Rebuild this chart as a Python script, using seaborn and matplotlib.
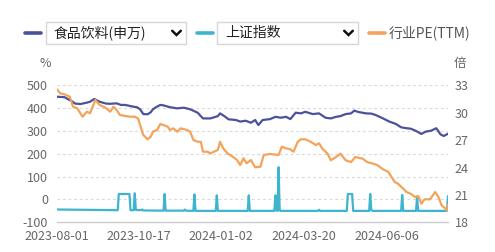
import numpy as np
import pandas as pd
import matplotlib
matplotlib.use("Agg")
import matplotlib.pyplot as plt
import matplotlib.dates as mdates
from matplotlib.patches import Rectangle
from matplotlib.lines import Line2D
import seaborn as sns

# ---------------- data (day offsets from 2023-08-01) ----------------
start_date = "2023-08-01"

navy_day = [0, 7, 14, 17, 22, 28, 31, 35, 40, 46, 50, 56, 60, 64, 68, 72, 75, 78, 81, 85,
            88, 90, 94, 97, 100, 106, 113, 119, 125, 132, 137, 144, 151, 153, 158, 161, 168,
            172, 177, 182, 186, 189, 193, 200, 205, 210, 215, 219, 224, 229, 233, 240, 246,
            252, 257, 262, 266, 271, 276, 279, 283, 290, 295, 299, 306, 312, 318, 323, 328,
            332, 337, 342, 346, 351, 356, 360, 363, 367]
navy_val = [450, 448, 430, 420, 418, 424, 428, 440, 428, 420, 419, 421, 414, 414, 410, 406, 404, 395, 374, 373,
            382, 395, 407, 414, 412, 404, 399, 402, 395, 380, 355, 355, 365, 377, 362, 351, 348,
            341, 345, 336, 348, 326, 348, 352, 362, 358, 362, 352, 380, 377, 384, 374, 377,
            358, 355, 362, 365, 374, 377, 389, 383, 377, 376, 370, 355, 341, 331, 316, 312,
            310, 300, 287, 297, 301, 312, 285, 278, 288]

pe_day = [0, 3, 7, 12, 15, 19, 24, 28, 31, 36, 40, 45, 50, 53, 56, 59, 64, 69, 73, 76, 78, 81, 85,
          88, 90, 94, 97, 100, 104, 106, 109, 113, 116, 122, 125, 128, 132, 135, 137, 141, 144,
          151, 153, 156, 160, 165, 169, 172, 175, 178, 182, 186, 191, 194, 200, 208, 211, 215,
          219, 222, 226, 229, 233, 238, 243, 246, 249, 254, 257, 262, 266, 271, 276, 280, 287,
          291, 297, 301, 306, 311, 314, 317, 320, 325, 328, 332, 336, 339, 342, 345, 350, 355,
          358, 361, 364, 366, 367]
pe_val = [32.56, 32.12, 32.01, 31.75, 30.66, 30.48, 29.56, 30.11, 29.93, 31.39, 30.84, 30.59, 30.11,
          30.66, 30.30, 29.75, 29.64, 29.56, 29.56, 29.39, 28.65, 27.56, 27.09, 27.37, 27.92, 28.11,
          28.76, 28.65, 28.47, 28.11, 28.29, 27.92, 28.29, 28.11, 27.92, 27.01, 26.82, 26.82, 25.73,
          25.73, 25.55, 25.92, 26.82, 26.10, 25.55, 25.18, 24.82, 24.27, 25.01, 24.46, 24.82, 24.02,
          24.09, 25.37, 25.48, 25.37, 26.28, 26.10, 25.99, 25.73, 26.82, 27.09, 27.09, 26.82, 26.46,
          26.65, 26.06, 25.51, 24.79, 25.15, 25.51, 24.79, 24.60, 25.15, 24.96, 24.60, 24.41, 24.24,
          23.80, 23.51, 22.96, 22.41, 22.23, 21.68, 21.32, 21.13, 20.77, 20.88, 20.03, 20.52, 20.52,
          21.32, 20.77, 19.86, 19.56, 19.31, 19.93]

sh_day = [0, 20, 40, 57, 58, 68, 69, 72, 73, 74, 79, 80, 81, 100, 101, 102, 119, 120, 121, 128,
          129, 130, 149, 150, 151, 179, 180, 181, 204, 205, 206, 207, 208, 209, 210, 245, 246,
          247, 272, 273, 277, 278, 293, 294, 295, 296, 323, 324, 325, 337, 338, 339, 366, 367]
sh_val = [-44, -45, -46, -47, 24, 24, -47, -47, 27, -46, -47, -44, -48, -49, 24, -49, -49, -44, -49, -50,
          22, -50, -50, 18, -50, -50, 18, -50, -50, 18, -48, -50, 141, -48, -50, -50, -45,
          -50, -50, 24, 24, -50, -50, 24, -46, -50, -50, 20, -50, -50, 12, -50, -50, 15]

left_ticks = [-100, 0, 100, 200, 300, 400, 500]
right_ticks = [18, 21, 24, 27, 30, 33]
x_tick_labels = ["2023-08-01", "2023-10-17", "2024-01-02", "2024-03-20", "2024-06-06"]
legend_labels = ["食品饮料(申万)", "上证指数", "行业PE(TTM)"]

NAVY = "#4a5299"
CYAN = "#3db5cf"
ORANGE = "#f4a35a"
GRAY = "#666666"

# ---------------- build frames ----------------
t0 = pd.Timestamp(start_date)
navy_df = pd.DataFrame({"date": t0 + pd.to_timedelta(navy_day, unit="D"), "v": navy_val})
pe_df = pd.DataFrame({"date": t0 + pd.to_timedelta(pe_day, unit="D"), "v": pe_val})
sh_df = pd.DataFrame({"date": t0 + pd.to_timedelta(sh_day, unit="D"), "v": sh_val})

sns.set_theme(style="white")
plt.rcParams["font.family"] = ["Noto Sans CJK SC", "DejaVu Sans"]
plt.rcParams["axes.unicode_minus"] = False

W, H = 495, 252
fig = plt.figure(figsize=(W / 100, H / 100), dpi=100)
fig.patch.set_facecolor("white")

L, R, T, B = 57, 448, 85.3, 222.3
ax = fig.add_axes([L / W, 1 - B / H, (R - L) / W, (B - T) / H])
ax2 = ax.twinx()

sns.lineplot(data=sh_df, x="date", y="v", ax=ax, color=CYAN, lw=1.6, estimator=None)
sns.lineplot(data=navy_df, x="date", y="v", ax=ax, color=NAVY, lw=1.6, estimator=None)
sns.lineplot(data=pe_df, x="date", y="v", ax=ax2, color=ORANGE, lw=1.6, estimator=None)

ax.set_ylim(-100, 500)
ax2.set_ylim(18, 33)
xmax = t0 + pd.Timedelta(days=367)
ax.set_xlim(t0, xmax)

ax.set_yticks(left_ticks)
ax2.set_yticks(right_ticks)
ax.set_xticks([pd.Timestamp(s) for s in x_tick_labels])
ax.xaxis.set_major_formatter(mdates.DateFormatter("%Y-%m-%d"))

for a in (ax, ax2):
    a.set_xlabel("")
    a.set_ylabel("")
    for s in a.spines.values():
        s.set_visible(False)
ax.spines["bottom"].set_visible(True)
ax.spines["bottom"].set_color("#cccccc")
ax.spines["bottom"].set_linewidth(1.0)

for yv in left_ticks[1:]:
    ax.axhline(yv, color="#d9d9d9", lw=0.8, ls=(0, (2.5, 2.5)), zorder=0)

ax.tick_params(axis="y", length=0, labelsize=9, labelcolor=GRAY, pad=6.5)
ax2.tick_params(axis="y", length=0, labelsize=9, labelcolor=GRAY, pad=5)
ax.tick_params(axis="x", length=4, width=1, color="#cccccc", labelsize=9, labelcolor=GRAY, pad=1.5)
ax2.grid(False)
ax.grid(False)

def fx(px):
    return px / W

def fy(py):
    return 1 - py / H

fig.text(fx(45), fy(63.5), "%", ha="center", va="center", fontsize=9, color=GRAY)
fig.text(fx(460), fy(63), "倍", ha="center", va="center", fontsize=9, color=GRAY)

# ---------------- custom legend ----------------
def legend_line(x0, x1, color):
    fig.add_artist(Line2D([fx(x0), fx(x1)], [fy(33), fy(33)], color=color, lw=2.6,
                          transform=fig.transFigure))

def dropdown(x0, x1, text, chev_x):
    fig.add_artist(Rectangle((fx(x0), fy(44)), fx(x1) - fx(x0), fy(21.7) - fy(44),
                             transform=fig.transFigure, facecolor="white",
                             edgecolor="#d6d6d6", lw=1.0))
    fig.text(fx(x0 + 7.5), fy(33), text, ha="left", va="center", fontsize=10, color="#222222")
    fig.add_artist(Line2D([fx(chev_x - 4.3), fx(chev_x), fx(chev_x + 4.3)],
                          [fy(30.8), fy(35), fy(30.8)], color="#111111", lw=1.8,
                          transform=fig.transFigure, solid_joinstyle="miter"))

legend_line(25, 40.7, NAVY)
dropdown(45.7, 186.3, legend_labels[0], 176.5)
legend_line(197, 213, CYAN)
dropdown(217.3, 358.3, legend_labels[1], 348.5)
legend_line(369, 385, ORANGE)
fig.text(fx(389), fy(33), legend_labels[2], ha="left", va="center", fontsize=10, color="#555555")

fig.savefig("out.png", dpi=100, facecolor="white")
